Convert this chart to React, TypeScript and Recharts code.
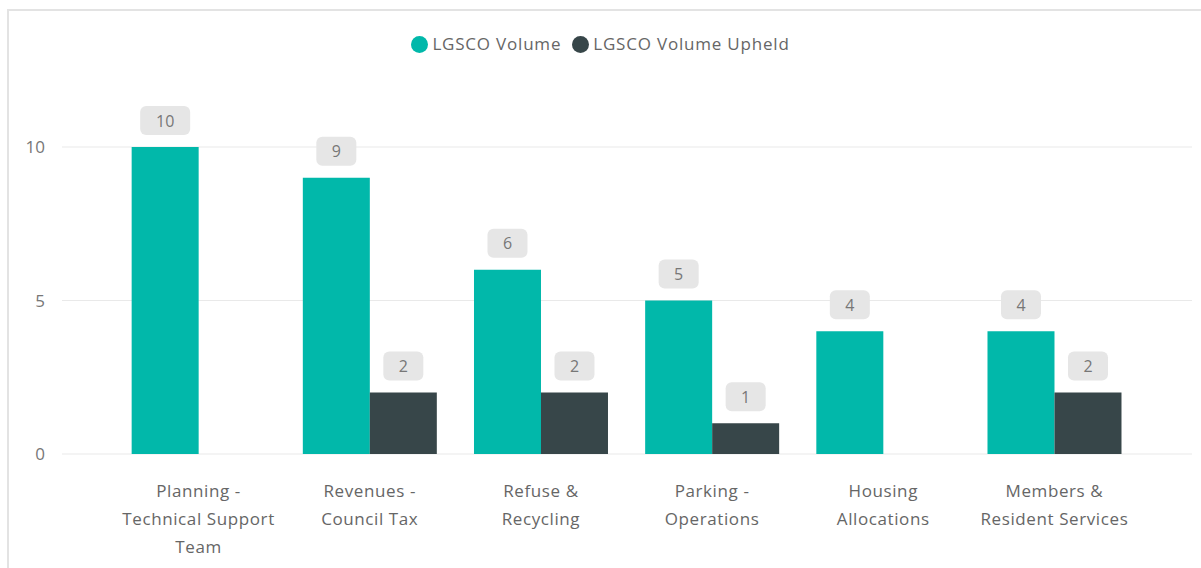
import React from 'react';
import { Bar, BarChart, CartesianGrid, LabelList, XAxis, YAxis } from 'recharts';

const categories = [
  'Planning -\nTechnical Support\nTeam',
  'Revenues -\nCouncil Tax',
  'Refuse &\nRecycling',
  'Parking -\nOperations',
  'Housing\nAllocations',
  'Members &\nResident Services',
];
const volume = [10, 9, 6, 5, 4, 4];
const upheld: (number | null)[] = [null, 2, 2, 1, null, 2];
const yTicks = [0, 5, 10];

const series = [
  { key: 'volume', name: 'LGSCO Volume', color: '#01B8AA' },
  { key: 'upheld', name: 'LGSCO Volume Upheld', color: '#374649' },
];

const data = categories.map((name, i) => ({ name, volume: volume[i], upheld: upheld[i] }));

const FONT = '"Open Sans", "Noto Sans", sans-serif';

const CategoryTick = (props: any) => {
  const { x, y, payload } = props;
  const lines = String(payload.value).split('\n');
  return (
    <text
      x={x}
      y={y}
      textAnchor="middle"
      fill="#666"
      fontSize={17}
      letterSpacing={0.6}
      fontFamily={FONT}
    >
      {lines.map((line, i) => (
        <tspan key={line} x={x} dy={i === 0 ? 43 : 28}>
          {line}
        </tspan>
      ))}
    </text>
  );
};

const ValueBadge = (props: any) => {
  const { x, y, width, value } = props;
  if (value == null) return null;
  const w = String(value).length > 1 ? 50 : 40;
  const h = 29;
  const cx = x + width / 2;
  const bottom = y - 12;
  return (
    <g>
      <rect x={cx - w / 2} y={bottom - h} width={w} height={h} rx={6} fill="#e6e6e6" />
      <text
        x={cx}
        y={bottom - h / 2}
        textAnchor="middle"
        dominantBaseline="central"
        fill="#777"
        fontSize={16}
        fontFamily={FONT}
      >
        {value}
      </text>
    </g>
  );
};

export default function App() {
  return (
    <div style={page}>
      <div style={frame} />
      <div style={legendRow}>
        {series.map((s) => (
          <div key={s.key} style={legendItem}>
            <span style={{ ...legendDot, background: s.color }} />
            <span>{s.name}</span>
          </div>
        ))}
      </div>
      <div style={{ position: 'absolute', left: 0, top: 0 }}>
        <BarChart
          width={1201}
          height={568}
          data={data}
          margin={{ top: 147, right: 9, left: 22, bottom: 14 }}
          barCategoryGap="10.9%"
          barGap={0}
        >
          <CartesianGrid vertical={false} stroke="#e9e9e9" strokeWidth={1} />
          <XAxis
            dataKey="name"
            axisLine={false}
            tickLine={false}
            tickSize={0}
            tickMargin={0}
            height={100}
            interval={0}
            padding={{ left: 51, right: 52 }}
            tick={<CategoryTick />}
          />
          <YAxis
            type="number"
            domain={[0, 10]}
            ticks={yTicks}
            axisLine={false}
            tickLine={false}
            tickSize={0}
            tickMargin={17}
            width={40}
            tick={{ fontSize: 17, fill: '#777', fontFamily: FONT }}
          />
          {series.map((s) => (
            <Bar key={s.key} dataKey={s.key} name={s.name} fill={s.color} isAnimationActive={false}>
              <LabelList dataKey={s.key} content={<ValueBadge />} />
            </Bar>
          ))}
        </BarChart>
      </div>
    </div>
  );
}

const page: React.CSSProperties = {
  position: 'fixed',
  left: 0,
  top: 0,
  width: 1201,
  height: 568,
  overflow: 'hidden',
  background: '#ffffff',
  fontFamily: FONT,
};

const frame: React.CSSProperties = {
  position: 'absolute',
  left: 7,
  top: 9,
  width: 1260,
  height: 620,
  border: '2px solid #e3e3e3',
};

const legendRow: React.CSSProperties = {
  position: 'absolute',
  left: 0,
  top: 32,
  width: 1201,
  display: 'flex',
  justifyContent: 'center',
  gap: 11,
  fontSize: 17,
  letterSpacing: 0.8,
  color: '#666',
  lineHeight: '24px',
};

const legendItem: React.CSSProperties = {
  display: 'flex',
  alignItems: 'center',
};

const legendDot: React.CSSProperties = {
  display: 'inline-block',
  width: 17,
  height: 17,
  borderRadius: '50%',
  marginRight: 4,
};
